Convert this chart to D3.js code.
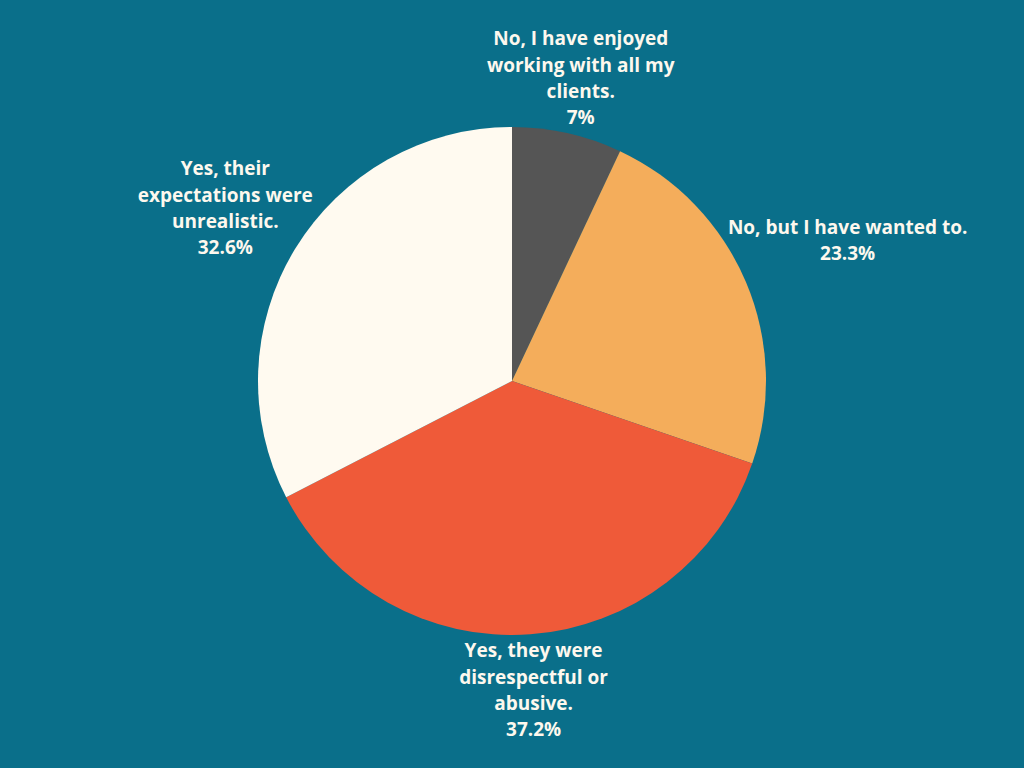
<!DOCTYPE html>
<html>
<head>
<meta charset="utf-8">
<script src="https://cdn.jsdelivr.net/npm/d3@7"></script>
<style>
  html, body { margin: 0; padding: 0; background: #0a6f8a; }
  svg { display: block; }
</style>
</head>
<body>
<svg id="chart" width="1024" height="768"></svg>
<script>
// Kết quả khảo sát: đã từng từ chối / bỏ khách hàng chưa?
const labels = [
  ["No, I have enjoyed", "working with all my", "clients."],
  ["No, but I have wanted to."],
  ["Yes, they were", "disrespectful or", "abusive."],
  ["Yes, their", "expectations were", "unrealistic."]
];
const values = [7, 23.3, 37.2, 32.6];
const pctText = ["7%", "23.3%", "37.2%", "32.6%"];
const colors = ["#555555", "#f4ad5b", "#ef5a39", "#fffaf0"];

const svg = d3.select("#chart");
const W = +svg.attr("width");
const H = +svg.attr("height");

svg.append("rect").attr("width", W).attr("height", H).attr("fill", "#0a6f8a");

const cx = 512, cy = 381, R = 254;
const g = svg.append("g").attr("transform", `translate(${cx},${cy})`);

// 1. Pie
const pie = d3.pie().sort(null).value(d => d)(values);
const arc = d3.arc().innerRadius(0).outerRadius(R);

g.selectAll("path")
  .data(pie)
  .enter()
  .append("path")
  .attr("d", arc)
  .attr("fill", (d, i) => colors[i]);

// 2. Nhãn (đặt ngoài lát, theo góc giữa)
const lineH = 26.5;
const pctGap = 26;
pie.forEach((d, i) => {
  const t = g.append("text")
    .attr("text-anchor", "middle")
    .style("font-family", "'Open Sans', sans-serif")
    .style("font-weight", "bold")
    .style("font-size", "19px")
    .attr("fill", "#fdf8ee");

  const lines = labels[i];
  lines.forEach((s, k) => {
    t.append("tspan").attr("x", 0).attr("y", k * lineH).text(s);
  });
  t.append("tspan").attr("x", 0).attr("y", (lines.length - 1) * lineH + pctGap).text(pctText[i]);

  const bb = t.node().getBBox();
  const a = (d.startAngle + d.endAngle) / 2;
  const sx = Math.sin(a), sy = -Math.cos(a);
  const pad = -10 - 12 * Math.max(0, -sx);
  const ext = Math.abs(sx) * bb.width / 2 + Math.abs(sy) * bb.height / 2;
  const dist = R + pad + ext;
  const nudge = sy > 0 ? 8 * sy : 5 * sy * sy;
  const px = sx * dist - (bb.x + bb.width / 2);
  const py = sy * dist - (bb.y + bb.height / 2) + nudge;
  t.attr("transform", `translate(${px},${py})`);
});
</script>
</body>
</html>
